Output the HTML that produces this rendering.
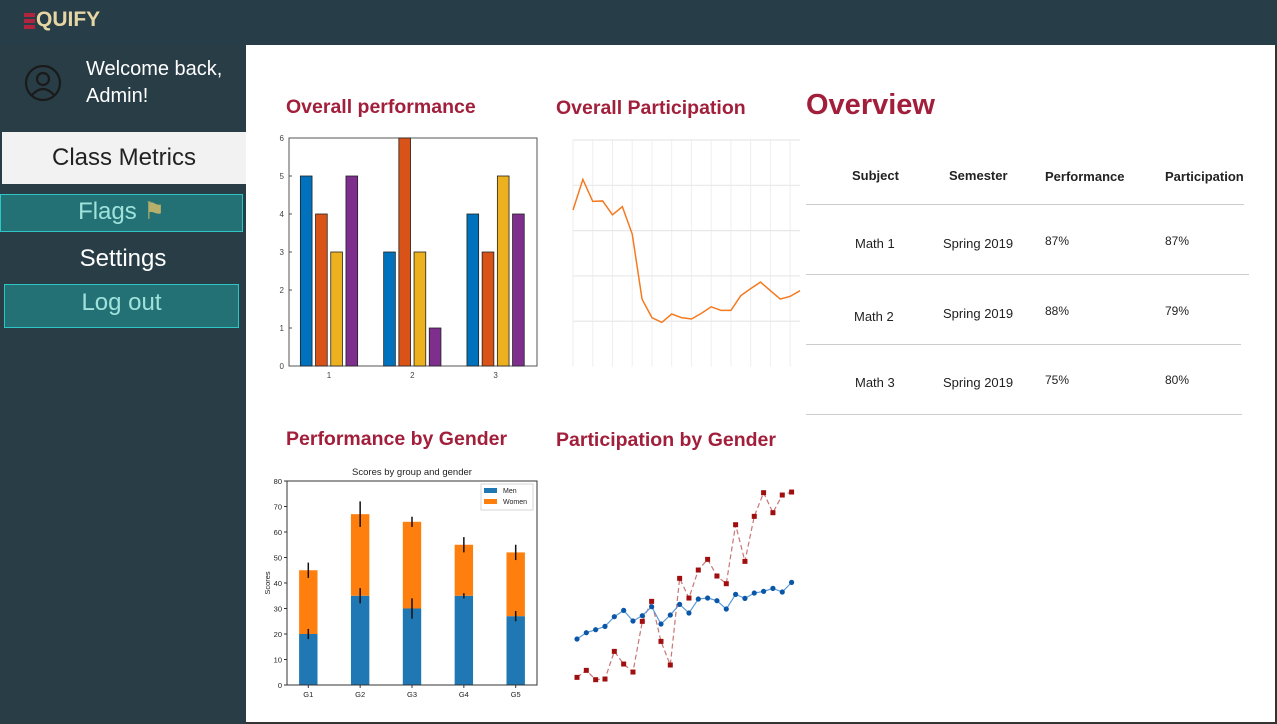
<!DOCTYPE html>
<html><head><meta charset="utf-8">
<style>
*{margin:0;padding:0;box-sizing:border-box}
body{width:1277px;height:724px;overflow:hidden;background:#283d46;font-family:"Liberation Sans",sans-serif;position:relative}
.abs{position:absolute}
.t{color:#a21f3b;font-weight:bold;font-size:19.5px;white-space:nowrap}
.side{color:#fff;font-size:24px;text-align:center}
.th{font-weight:bold;font-size:13px;color:#222;white-space:nowrap}
.td{font-size:13px;color:#222;white-space:nowrap}
.ln{position:absolute;height:1px;background:#ccc}
</style></head><body>
<div class="abs" style="left:0;top:0;width:1277px;height:45px;background:#273d47"></div>
<div class="abs" style="left:24px;top:10px;height:22px;">
  <div class="abs" style="left:0;top:3px;width:11px;height:4px;background:#b0243d"></div>
  <div class="abs" style="left:0;top:9px;width:11px;height:4px;background:#b0243d"></div>
  <div class="abs" style="left:0;top:15px;width:11px;height:4px;background:#b0243d"></div>
  <div class="abs" style="left:12px;top:-2px;font-weight:bold;font-size:21px;color:#e6d6a4;white-space:nowrap">QUIFY</div>
</div>
<svg class="abs" style="left:24px;top:65px" width="38" height="38"><circle cx="19" cy="18" r="17" fill="none" stroke="#1a1a1a" stroke-width="2.2"/><circle cx="19" cy="14" r="6" fill="none" stroke="#1a1a1a" stroke-width="2.2"/><path d="M8 30 Q19 18 30 30" fill="none" stroke="#1a1a1a" stroke-width="2.2"/></svg>
<div class="abs" style="left:86px;top:56px;color:#fff;font-size:20px;line-height:27px">Welcome back,<br>Admin!</div>
<div class="abs side" style="left:2px;top:132px;width:244px;height:52px;background:#f2f2f2;color:#222;line-height:52px">Class Metrics</div>
<div class="abs side" style="left:0;top:194px;width:243px;height:38px;background:#237175;border:1px solid #2ec6c4;color:#9fe2dc;line-height:34px">Flags <span style="color:#b7b06a">&#9873;</span></div>
<div class="abs side" style="left:0;top:243px;width:246px;line-height:32px">Settings</div>
<div class="abs side" style="left:4px;top:284px;width:235px;height:44px;background:#237175;border:1px solid #2ec6c4;color:#9fe2dc;line-height:36px">Log out</div>

<div class="abs" style="left:246px;top:45px;width:1031px;height:679px;background:#fff;border-right:2px solid #333;border-bottom:2px solid #333"></div>

<div class="abs t" style="left:286px;top:96px">Overall performance</div>
<div class="abs t" style="left:556px;top:97px">Overall Participation</div>
<div class="abs t" style="left:286px;top:428px">Performance by Gender</div>
<div class="abs t" style="left:556px;top:429px">Participation by Gender</div>
<div class="abs" style="left:806px;top:89px;color:#a21f3b;font-weight:bold;font-size:29px">Overview</div>

<div class="abs th" style="left:852px;top:168px">Subject</div>
<div class="abs th" style="left:949px;top:168px">Semester</div>
<div class="abs th" style="left:1045px;top:169px">Performance</div>
<div class="abs th" style="left:1165px;top:169px">Participation</div>
<div class="ln" style="left:806px;top:204px;width:438px"></div>
<div class="ln" style="left:806px;top:274px;width:443px"></div>
<div class="ln" style="left:806px;top:344px;width:435px"></div>
<div class="ln" style="left:806px;top:414px;width:436px"></div>
<div class="abs td" style="left:855px;top:236px">Math 1</div>
<div class="abs td" style="left:943px;top:236px">Spring 2019</div>
<div class="abs td" style="left:1045px;top:234px;font-size:12px">87%</div>
<div class="abs td" style="left:1165px;top:234px;font-size:12px">87%</div>
<div class="abs td" style="left:854px;top:309px">Math 2</div>
<div class="abs td" style="left:943px;top:306px">Spring 2019</div>
<div class="abs td" style="left:1045px;top:304px;font-size:12px">88%</div>
<div class="abs td" style="left:1165px;top:304px;font-size:12px">79%</div>
<div class="abs td" style="left:855px;top:375px">Math 3</div>
<div class="abs td" style="left:943px;top:375px">Spring 2019</div>
<div class="abs td" style="left:1045px;top:373px;font-size:12px">75%</div>
<div class="abs td" style="left:1165px;top:373px;font-size:12px">80%</div>

<svg id="charts" class="abs" style="left:0;top:0" width="1277" height="724" font-family="Liberation Sans, sans-serif"></svg>

<script>
// Chart 1: overall performance
const perfGroups = ["1","2","3"];
const perfSeries = [[5,3,4],[4,6,3],[3,3,5],[5,1,4]];
const perfColors = ["#0072bd","#d95319","#edb120","#7e2f8e"];
const perfTicks = [0,1,2,3,4,5,6];
// Chart 2: overall participation
const partValues = [69.1,82.6,72.9,73.1,67.0,70.6,58.5,29.7,21.6,19.5,23.2,21.6,21.0,23.5,26.4,24.8,24.8,31.3,34.4,37.3,33.5,29.8,31.0,33.5];
const partGridY = [20,40,60,80,100];
// Chart 3: performance by gender
const genderGroups = ["G1","G2","G3","G4","G5"];
const menMeans = [20,35,30,35,27];
const womenMeans = [25,32,34,20,25];
const menStd = [2,3,4,1,2];
const womenStd = [3,5,2,3,3];
const genderTicks = [0,10,20,30,40,50,60,70,80];
// Chart 4: participation by gender
const menPart = [143,162,171,181,210,229,197,213,240,188,215,247,221,263,266,258,233,277,265,281,286,295,284,313];
const womenPart = [28,49,21,23,106,68,44,196,256,136,65,325,266,350,382,332,309,486,376,511,582,522,575,584];

const svg = document.getElementById('charts');
const NS = 'http://www.w3.org/2000/svg';
function mk(tag, attrs, parent){const e=document.createElementNS(NS,tag);for(const k in attrs)e.setAttribute(k,attrs[k]);(parent||svg).appendChild(e);return e;}

// ---- chart 1
{
  const g = mk('g',{});
  
  
  const L=289,R=537,T=138,B=366;
  const y=v=>B-(v/6)*(B-T);
  const xc=i=>329+i*83.3;
  mk('rect',{x:L,y:T,width:R-L,height:B-T,fill:'#fff',stroke:'#555','stroke-width':1},g);
  perfTicks.forEach(t=>{
    const tx=mk('text',{x:L-5,y:y(t)+3,'font-size':8,fill:'#444','text-anchor':'end'},g);tx.textContent=t;
    mk('line',{x1:L,x2:L+3,y1:y(t),y2:y(t),stroke:'#555'},g);
  });
  perfGroups.forEach((lab,i)=>{
    const tx=mk('text',{x:xc(i),y:B+12,'font-size':8,fill:'#444','text-anchor':'middle'},g);tx.textContent=lab;
    perfSeries.forEach((s,j)=>{
      const bx=xc(i)+(j-1.5)*15.2-5.85;
      const r=mk('rect',{x:bx,y:y(s[i]),width:11.7,height:B-y(s[i]),fill:perfColors[j],stroke:'#222','stroke-width':0.8},g);
      
      
    });
  });
}
// ---- chart 2
{
  const g = mk('g',{});
  
  
  const L=573,R=800,T=140,B=366.6;
  const y=v=>B-(v/100)*(B-T);
  const x=i=>L+i*9.87;
  for(let i=0;i<partValues.length;i+=2) mk('line',{x1:x(i),x2:x(i),y1:T,y2:B,stroke:'#eee','stroke-width':1},g);
  partGridY.forEach(v=>mk('line',{x1:L,x2:R,y1:y(v),y2:y(v),stroke:'#e8e8e8','stroke-width':1.2},g));
  const p=mk('polyline',{points:partValues.map((v,i)=>x(i)+','+y(v)).join(' '),fill:'none',stroke:'#f5791f','stroke-width':1.5},g);
  
  
}
// ---- chart 3
{
  const g = mk('g',{});
  
  
  const L=287,R=537,T=481,B=685;
  const y=v=>B-(v/80)*(B-T);
  const xc=i=>308.3+i*51.85;
  const tt=mk('text',{x:412,y:475,'font-size':9.5,fill:'#222','text-anchor':'middle'},g);tt.textContent='Scores by group and gender';
  const yl=mk('text',{x:0,y:0,'font-size':7.5,fill:'#222','text-anchor':'middle',transform:'translate(270,583) rotate(-90)'},g);yl.textContent='Scores';
  genderTicks.forEach(t=>{
    const tx=mk('text',{x:L-5,y:y(t)+3,'font-size':7.5,fill:'#222','text-anchor':'end'},g);tx.textContent=t;
    mk('line',{x1:L-3,x2:L,y1:y(t),y2:y(t),stroke:'#333'},g);
  });
  genderGroups.forEach((lab,i)=>{
    const c=xc(i);
    const m=mk('rect',{x:c-9.2,y:y(menMeans[i]),width:18.4,height:B-y(menMeans[i]),fill:'#1f77b4'},g);
    
    
    const top=menMeans[i]+womenMeans[i];
    const w=mk('rect',{x:c-9.2,y:y(top),width:18.4,height:y(menMeans[i])-y(top),fill:'#ff7f0e'},g);
    
    
    mk('line',{x1:c,x2:c,y1:y(menMeans[i]+menStd[i]),y2:y(menMeans[i]-menStd[i]),stroke:'#111','stroke-width':1.5},g);
    mk('line',{x1:c,x2:c,y1:y(top+womenStd[i]),y2:y(top-womenStd[i]),stroke:'#111','stroke-width':1.5},g);
    const tx=mk('text',{x:c,y:B+12,'font-size':7.5,fill:'#222','text-anchor':'middle'},g);tx.textContent=lab;
    mk('line',{x1:c,x2:c,y1:B,y2:B+3,stroke:'#333'},g);
  });
  mk('rect',{x:L,y:T,width:R-L,height:B-T,fill:'none',stroke:'#333','stroke-width':1},g);
  mk('rect',{x:481,y:484,width:52,height:26,fill:'#fff',stroke:'#ccc','stroke-width':0.8},g);
  mk('rect',{x:484,y:488,width:13,height:5,fill:'#1f77b4'},g);
  mk('rect',{x:484,y:499,width:13,height:5,fill:'#ff7f0e'},g);
  const l1=mk('text',{x:503,y:493,'font-size':7,fill:'#222'},g);l1.textContent='Men';
  const l2=mk('text',{x:503,y:504,'font-size':7,fill:'#222'},g);l2.textContent='Women';
}
// ---- chart 4
{
  const g = mk('g',{});
  
  
  const y=v=>686.7-v/3;
  const x=i=>577+i*9.33;
  const wl=mk('polyline',{points:womenPart.map((v,i)=>x(i)+','+y(v)).join(' '),fill:'none',stroke:'#c87676','stroke-width':1.2,'stroke-dasharray':'5,3'},g);
  
  
  womenPart.forEach((v,i)=>mk('rect',{x:x(i)-2.5,y:y(v)-2.5,width:5,height:5,fill:'#a00f0f'},g));
  const ml=mk('polyline',{points:menPart.map((v,i)=>x(i)+','+y(v)).join(' '),fill:'none',stroke:'#5b9bd5','stroke-width':1.2},g);
  
  
  menPart.forEach((v,i)=>mk('circle',{cx:x(i),cy:y(v),r:2.6,fill:'#0a56a8'},g));
}
</script>
</body></html>
